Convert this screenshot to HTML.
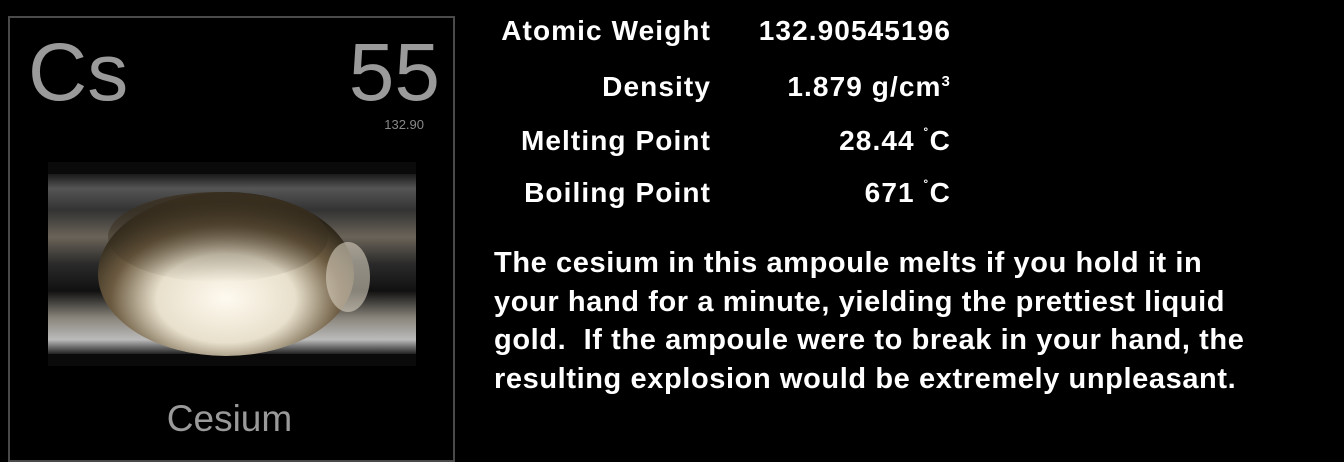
<!DOCTYPE html>
<html><head><meta charset="utf-8"><style>
html,body{margin:0;padding:0;background:#000;width:1344px;height:462px;overflow:hidden;font-family:"Liberation Sans",Arial,sans-serif}
.abs{position:absolute}
#card{left:8px;top:16px;width:443px;height:442px;border:2px solid #4a4a4a}
.lbl{color:#fff;font-size:28px;font-weight:bold;letter-spacing:1.1px;text-align:right;width:300px;left:411px;white-space:nowrap}
.val{color:#fff;font-size:28px;font-weight:bold;letter-spacing:1.1px;text-align:right;width:300px;left:651px;white-space:nowrap}
#desc{left:494px;top:244px;width:840px;color:#fff;font-size:29px;font-weight:bold;letter-spacing:0.6px;line-height:38.5px;white-space:nowrap}
</style></head><body>
<div id="card" class="abs"></div>
<div class="abs" style="left:28px;top:28px;color:#9a9a9a;font-size:82px;line-height:90px">Cs</div>
<div class="abs" style="left:300px;width:140px;text-align:right;top:28px;color:#9a9a9a;font-size:82px;line-height:90px">55</div>
<div class="abs" style="left:340px;width:84px;text-align:right;top:117px;color:#888;font-size:13px">132.90</div>
<svg class="abs" style="left:48px;top:162px" width="368" height="204">
<defs>
<linearGradient id="tube" x1="0" y1="0" x2="0" y2="1">
<stop offset="0" stop-color="#1a1a1a"/><stop offset="0.08" stop-color="#555"/><stop offset="0.2" stop-color="#333"/><stop offset="0.35" stop-color="#6a6358"/><stop offset="0.5" stop-color="#2a2a2a"/><stop offset="0.65" stop-color="#111"/><stop offset="0.8" stop-color="#8a857c"/><stop offset="0.92" stop-color="#bbb"/><stop offset="1" stop-color="#222"/></linearGradient>
<radialGradient id="blob" cx="0.5" cy="0.65" r="0.6">
<stop offset="0" stop-color="#fffaf0"/><stop offset="0.45" stop-color="#e8e0cc"/><stop offset="0.75" stop-color="#6b5a40"/><stop offset="1" stop-color="#2a2418"/></radialGradient>
<linearGradient id="top" x1="0" y1="0" x2="0" y2="1"><stop offset="0" stop-color="#3a3020" stop-opacity="0.9"/><stop offset="1" stop-color="#3a3020" stop-opacity="0"/></linearGradient>
</defs>
<rect x="0" y="0" width="368" height="204" fill="#0a0a0a"/>
<rect x="0" y="12" width="368" height="180" fill="url(#tube)"/>
<ellipse cx="178" cy="112" rx="128" ry="82" fill="url(#blob)"/>
<ellipse cx="170" cy="75" rx="110" ry="45" fill="url(#top)"/>
<ellipse cx="300" cy="115" rx="22" ry="35" fill="#d8d0c0" opacity="0.6"/>
</svg>
<div class="abs" style="left:8px;width:443px;text-align:center;top:398px;color:#9a9a9a;font-size:37px">Cesium</div>

<div class="abs lbl" style="top:15px">Atomic Weight</div>
<div class="abs val" style="top:15px">132.90545196</div>
<div class="abs lbl" style="top:71px">Density</div>
<div class="abs val" style="top:71px">1.879 g/cm<sup style="font-size:15px;vertical-align:10px">3</sup></div>
<div class="abs lbl" style="top:125px">Melting Point</div>
<div class="abs val" style="top:125px">28.44 <sup style="font-size:15px">˚</sup>C</div>
<div class="abs lbl" style="top:177px">Boiling Point</div>
<div class="abs val" style="top:177px">671 <sup style="font-size:15px">˚</sup>C</div>

<div id="desc" class="abs">The cesium in this ampoule melts if you hold it in<br>your hand for a minute, yielding the prettiest liquid<br>gold.&nbsp; If the ampoule were to break in your hand, the<br>resulting explosion would be extremely unpleasant.</div>
</body></html>
